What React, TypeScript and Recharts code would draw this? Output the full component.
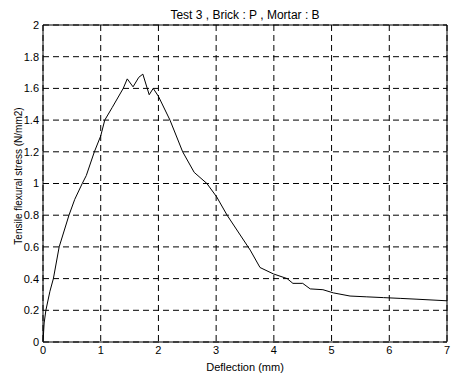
import React from "react";
import {
  LineChart,
  Line,
  XAxis,
  YAxis,
  CartesianGrid,
  ReferenceLine,
} from "recharts";

const title = "Test 3 , Brick : P , Mortar : B";
const xLabel = "Deflection (mm)";
const yLabel = "Tensile flexural stress (N/mm2)";

// deflection (mm) and stress (N/mm2)
const deflection = [
  0, 0.02, 0.05, 0.12, 0.18, 0.28, 0.45, 0.55, 0.68, 0.75, 0.89, 1.0, 1.07,
  1.2, 1.39, 1.46, 1.56, 1.66, 1.73, 1.84, 1.91, 2.0, 2.2, 2.42, 2.62, 2.84,
  3.01, 3.19, 3.59, 3.76, 3.99, 4.23, 4.33, 4.5, 4.63, 4.85, 5.03, 5.32, 5.6,
  5.9, 6.2, 6.48, 7.0,
];
const stress = [
  0, 0.12, 0.2, 0.32, 0.4, 0.6, 0.8, 0.9, 1.0, 1.05, 1.2, 1.3, 1.4, 1.48, 1.6,
  1.66, 1.61, 1.67, 1.69, 1.56, 1.6, 1.55, 1.4, 1.2, 1.07, 1.0, 0.915, 0.8,
  0.58, 0.47, 0.43, 0.4, 0.37, 0.37, 0.335, 0.33, 0.31, 0.29, 0.285, 0.28,
  0.275, 0.27, 0.26,
];

const xTicks = [0, 1, 2, 3, 4, 5, 6, 7];
const yTicks = [0, 0.2, 0.4, 0.6, 0.8, 1, 1.2, 1.4, 1.6, 1.8, 2];

const data = deflection.map((x, i) => ({ x, y: stress[i] }));

const font = "'Liberation Sans', Arial, sans-serif";
const tickStyle = { fontSize: 11, fill: "#000", fontFamily: font };

export default function App() {
  return (
    <div
      style={{
        position: "absolute",
        left: 0,
        top: 0,
        width: 451,
        height: 379,
        background: "#fff",
        fontFamily: font,
      }}
    >
      <div
        style={{
          position: "absolute",
          left: 43,
          width: 404,
          top: 8,
          lineHeight: "14px",
          textAlign: "center",
          fontSize: 12,
          color: "#000",
        }}
      >
        {title}
      </div>
      <LineChart
        width={451}
        height={379}
        data={data}
        margin={{ top: 25, right: 4, bottom: 0, left: 13 }}
      >
        <CartesianGrid
          stroke="#000"
          strokeDasharray="6 4"
          horizontalValues={yTicks}
          verticalValues={xTicks}
        />
        <XAxis
          dataKey="x"
          type="number"
          domain={[0, 7]}
          ticks={xTicks}
          height={37}
          stroke="#000"
          tickLine={false}
          tickSize={0}
          tickMargin={4}
          tick={tickStyle}
          label={{
            value: xLabel,
            position: "insideBottom",
            offset: 8,
            style: { fontSize: 11, fill: "#000", fontFamily: font },
          }}
        />
        <YAxis
          type="number"
          domain={[0, 2]}
          ticks={yTicks}
          width={30}
          stroke="#000"
          tickLine={false}
          tickSize={0}
          tickMargin={4}
          tick={tickStyle}
        />
        <ReferenceLine y={2} stroke="#000" />
        <ReferenceLine x={7} stroke="#000" />
        <Line
          type="linear"
          dataKey="y"
          stroke="#000"
          strokeWidth={1}
          dot={false}
          isAnimationActive={false}
        />
      </LineChart>
      <div
        style={{
          position: "absolute",
          left: 19,
          top: 176,
          transform: "translate(-50%, -50%) rotate(-90deg)",
          whiteSpace: "nowrap",
          fontSize: 10,
          lineHeight: "12px",
          color: "#000",
        }}
      >
        {yLabel}
      </div>
    </div>
  );
}
